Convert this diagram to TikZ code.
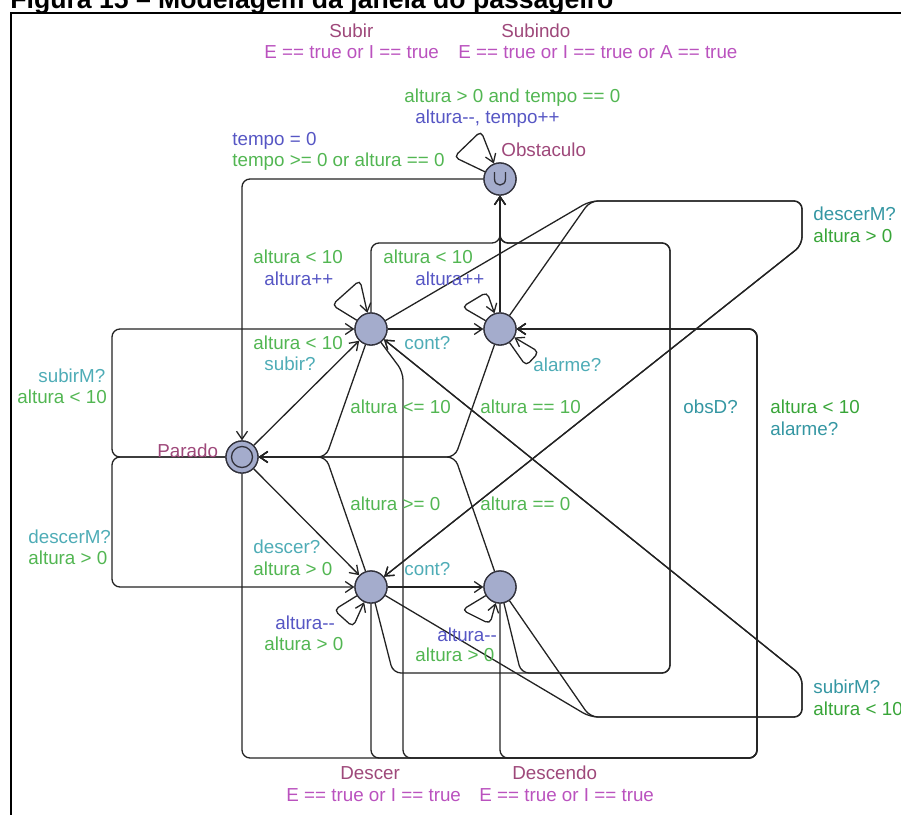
\documentclass[tikz,border=0pt]{standalone}
\usepackage{fontspec}
\setmainfont{Liberation Sans}
\usetikzlibrary{arrows.meta}
\definecolor{cname}{RGB}{158,72,122}
\definecolor{cinv}{RGB}{186,82,190}
\definecolor{cgreen}{RGB}{82,182,82}
\definecolor{cgreenD}{RGB}{56,165,56}
\definecolor{ccyan}{RGB}{78,172,182}
\definecolor{ccyanD}{RGB}{52,150,162}
\definecolor{cblue}{RGB}{86,86,196}
\definecolor{nodefill}{RGB}{164,172,204}
\definecolor{nodeline}{RGB}{50,50,60}
\definecolor{edgecol}{RGB}{35,35,35}
\begin{document}
\begin{tikzpicture}[x=0.5pt,y=-0.5pt,
  loc/.style={circle,draw=nodeline,fill=nodefill,line width=0.65pt,minimum size=16pt,inner sep=0pt},
  edge/.style={draw=edgecol,line width=0.65pt,rounded corners=4pt,-{Straight Barb[length=4pt,width=5.5pt]}},
  loopedge/.style={edge,rounded corners=2.5pt},
  lbl/.style={anchor=west,inner sep=0pt,text height=0.72em,text depth=0.2em,font=\fontsize{9.4}{11}\selectfont},
  guard/.style={lbl,text=cgreen},
  guardD/.style={lbl,text=cgreenD},
  sync/.style={lbl,text=ccyan},
  syncD/.style={lbl,text=ccyanD},
  upd/.style={lbl,text=cblue},
  lname/.style={lbl,text=cname},
  inv/.style={lbl,text=cinv}]
\useasboundingbox (0,0) rectangle (901,815);

% title and frame
\node[anchor=base west,inner sep=0pt,font=\bfseries\fontsize{13.3}{15}\selectfont] (title) at (10,8) {Figura 15 -- Modelagem da janela do passageiro};
\draw[line width=1pt] (11,815) -- (11,13) -- (901,13);

\coordinate (oc) at (242,179);
\node[loc] (O) at (500,179) {};
\node[loc] (S) at (371,329) {};
\node[loc] (Si) at (500,329) {};
\node[loc] (P) at (242,457) {};
\node[loc] (D) at (371,587) {};
\node[loc] (De) at (500,587) {};

% edges
\draw[edge] (O) -- (oc) -- (P);
\draw[loopedge] (O) -- (454,157) -- (481,131) -- (O);
\draw[edge] (P) -- (S);
\draw[edge] (P) -- (D);
\draw[edge] (P) -- (112,457) -- (112,329) -- (S);
\draw[edge] (P) -- (112,457) -- (112,587) -- (D);
\draw[edge] (P) -- (242,758) -- (757,758) -- (757,329) -- (Si);
\draw[edge] (S) -- (Si);
\draw[loopedge] (S) -- (332,305) -- (360,280) -- (S);
\draw[edge] (S) -- (326,457) -- (P);
\draw[edge] (S) -- (371,243) -- (500,243) -- (O);
\draw[edge] (S) -- (590,201) -- (802,201) -- (802,245) -- (D);
\draw[edge] (S) -- (403,372) -- (403,758) -- (757,758) -- (757,329) -- (Si);
\draw[loopedge] (Si) -- (462,307) -- (487,292) -- (Si);
\draw[loopedge] (Si) -- (526,366) -- (539,352) -- (Si);
\draw[edge] (Si) -- (455,457) -- (P);
\draw[edge] (Si) -- (O);
\draw[edge] (Si) -- (590,201) -- (802,201) -- (802,245) -- (D);
\draw[edge] (D) -- (De);
\draw[loopedge] (D) -- (334,610) -- (353,627) -- (D);
\draw[edge] (D) -- (326,457) -- (P);
\draw[edge] (D) -- (393,673) -- (670,673) -- (670,243) -- (500,243) -- (O);
\draw[edge] (D) -- (590,717) -- (802,717) -- (802,676) -- (S);
\draw[edge] (D) -- (371,758) -- (757,758) -- (757,329) -- (Si);
\draw[loopedge] (De) -- (462,610) -- (490,624) -- (De);
\draw[edge] (De) -- (455,457) -- (P);
\draw[edge] (De) -- (521,673) -- (670,673) -- (670,243) -- (500,243) -- (O);
\draw[edge] (De) -- (590,717) -- (802,717) -- (802,676) -- (S);
\draw[edge] (De) -- (500,758) -- (757,758) -- (757,329) -- (Si);

% redraw nodes on top of edges
\node[loc] (O2) at (O) {};
\node[loc] (S2) at (S) {};
\node[loc] (Si2) at (Si) {};
\node[loc] (P2) at (P) {};
\node[loc] (D2) at (D) {};
\node[loc] (De2) at (De) {};
\node[circle,draw=nodeline,line width=0.65pt,minimum size=10.5pt,inner sep=0pt] (Pin) at (P) {};
\draw[nodeline,line width=0.65pt] (494.5,172) -- (494.5,179) .. controls (494.5,187) and (505.5,187) .. (505.5,179) -- (505.5,172);

% location names and invariants
\node[lname] (nS) at (329,32) {Subir};
\node[inv] (iS) at (264,53) {E == true or I == true};
\node[lname] (nSi) at (501,32) {Subindo};
\node[inv] (iSi) at (458,53) {E == true or I == true or A == true};
\node[lname] (nO) at (501,151) {Obstaculo};
\node[lname] (nP) at (157,452) {Parado};
\node[lname] (nD) at (340,774) {Descer};
\node[inv] (iD) at (286,796) {E == true or I == true};
\node[lname] (nDe) at (512,774) {Descendo};
\node[inv] (iDe) at (479,796) {E == true or I == true};

% edge labels
\node[guard] (g1) at (404,97) {altura > 0 and tempo == 0};
\node[upd] (u1) at (415,118) {altura-{}-, tempo++};
\node[upd] (u2) at (232,140) {tempo = 0};
\node[guard] (g2) at (232,161) {tempo >= 0 or altura == 0};
\node[guard] (g3) at (253,258) {altura < 10};
\node[upd] (u3) at (264,280) {altura++};
\node[guard] (g4) at (383,258) {altura < 10};
\node[upd] (u4) at (415,280) {altura++};
\node[guard] (g5) at (253,344) {altura < 10};
\node[sync] (s5) at (264,365) {subir?};
\node[sync] (s6) at (404,344) {cont?};
\node[sync] (s7) at (38,377) {subirM?};
\node[guard] (g7) at (17,398) {altura < 10};
\node[guard] (g8) at (350,408) {altura <= 10};
\node[guard] (g9) at (480,408) {altura == 10};
\node[sync] (s10) at (533,366) {alarme?};
\node[syncD] (s11) at (683,408) {obsD?};
\node[guardD] (g12) at (770,408) {altura < 10};
\node[syncD] (s12) at (770,430) {alarme?};
\node[syncD] (s13) at (813,215) {descerM?};
\node[guardD] (g13) at (813,237) {altura > 0};
\node[guard] (g14) at (350,505) {altura >= 0};
\node[guard] (g15) at (480,505) {altura == 0};
\node[sync] (s16) at (28,538) {descerM?};
\node[guard] (g16) at (28,559) {altura > 0};
\node[sync] (s17) at (253,548) {descer?};
\node[guard] (g17) at (253,570) {altura > 0};
\node[sync] (s18) at (404,570) {cont?};
\node[upd] (u19) at (275,624) {altura-{}-};
\node[guard] (g19) at (264,645) {altura > 0};
\node[upd] (u20) at (437,636) {altura-{}-};
\node[guard] (g20) at (415,656) {altura > 0};
\node[syncD] (s21) at (813,688) {subirM?};
\node[guardD] (g21) at (813,710) {altura < 10};
\end{tikzpicture}
\end{document}
